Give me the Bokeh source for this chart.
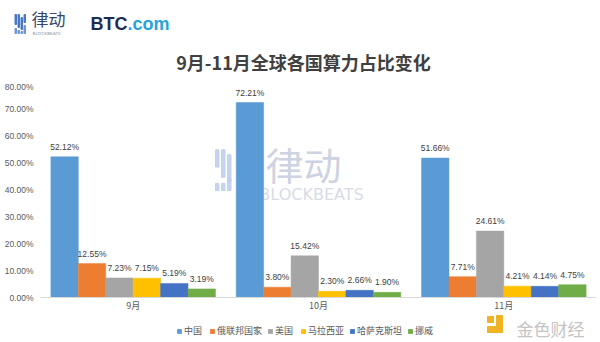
from bokeh.plotting import figure
from bokeh.models import ColumnDataSource, FactorRange, Range1d, Label, Legend, LegendItem, FixedTicker
from bokeh.layouts import column
from bokeh.transform import dodge
from bokeh.core.properties import value
from bokeh.embed import file_html
from bokeh.resources import INLINE

months = ["9月", "10月", "11月"]
countries = ["中国", "俄联邦国家", "美国", "马拉西亚", "哈萨克斯坦", "挪威"]
china = [52.12, 72.21, 51.66]
russia = [12.55, 3.80, 7.71]
usa = [7.23, 15.42, 24.61]
malaysia = [7.15, 2.30, 4.21]
kazakhstan = [5.19, 2.66, 4.14]
norway = [3.19, 1.90, 4.75]
y_ticks = [0, 10, 20, 30, 40, 50, 60, 70, 80]
title_text = "9月-11月全球各国算力占比变化"

series = [china, russia, usa, malaysia, kazakhstan, norway]
colors = ["#5B9BD5", "#ED7D31", "#A5A5A5", "#FFC000", "#4472C4", "#70AD47"]

W, H = 600, 342
HEADER_H = 81
FRAME_L, FRAME_R, FRAME_T, FRAME_B = 40, 596, 86, 298
MID_BOTTOM = 314

def no_align(f):
    try:
        f.frame_align = False
    except Exception:
        pass

def strip(h, y0):
    f = figure(width=W, height=h, x_range=Range1d(0, W), y_range=Range1d(y0 + h, y0),
               output_backend="svg", toolbar_location=None,
               x_axis_location=None, y_axis_location=None,
               min_border=0, min_border_left=0, min_border_right=0,
               min_border_top=0, min_border_bottom=0)
    f.outline_line_color = None
    f.xgrid.visible = False
    f.ygrid.visible = False
    no_align(f)
    return f

# ---------------- header: logos + title ----------------
pa = strip(HEADER_H, 0)
pa.quad(left=[14.5, 17.5, 20.5, 23.5], right=[16, 19, 22, 25],
        top=[14, 14, 17, 14], bottom=[24, 27, 29, 22], color="#4A78C8")
pa.quad(left=[14.5, 17.5, 20.5, 23.5], right=[16, 19, 22, 25],
        top=[28, 30, 31, 25], bottom=[33, 33, 33, 33], color="#6F95D6")
pa.text(x=[31], y=[30], text=["律动"], text_font=value("Noto Sans CJK SC"),
        text_font_size="17px", text_color="#34466B", text_baseline="bottom")
pa.text(x=[32], y=[35], text=["BLOCKBEATS"], text_font=value("Lato"),
        text_font_size="4.5px", text_color="#8C96AA", text_baseline="bottom")
pa.text(x=[90], y=[33], text=["BTC"], text_font=value("Liberation Sans"),
        text_font_size="18px", text_font_style="bold", text_color="#1D2B53",
        text_baseline="bottom")
pa.text(x=[127], y=[33], text=[".com"], text_font=value("Liberation Sans"),
        text_font_size="18px", text_font_style="bold", text_color="#27A3DC",
        text_baseline="bottom")
pa.text(x=[303], y=[61], text=[title_text], text_font=value("Noto Sans CJK SC"),
        text_font_size="18px", text_font_style="bold", text_color="#404040",
        text_align="center", text_baseline="middle")

# ---------------- main chart ----------------
data = {"month": months}
for i, s in enumerate(series):
    data[f"s{i}"] = s
    data[f"l{i}"] = [f"{v:.2f}%" for v in s]
src = ColumnDataSource(data)

p = figure(width=W, height=MID_BOTTOM - HEADER_H, x_range=FactorRange(*months, range_padding=0),
           y_range=Range1d(0, 80), output_backend="svg", toolbar_location=None,
           min_border_left=FRAME_L, min_border_right=W - FRAME_R,
           min_border_top=0, min_border_bottom=MID_BOTTOM - FRAME_B)
p.outline_line_color = None
p.xgrid.grid_line_color = None
p.ygrid.grid_line_color = None
no_align(p)

def px2x(px):
    return (px - FRAME_L) / ((FRAME_R - FRAME_L) / 3.0)

def px2y(py):
    return (FRAME_B - py) / ((FRAME_B - FRAME_T) / 80.0)

# watermark behind bars
wm_l = [215, 221, 227, 215, 221, 227]
wm_r = [218.5, 224.5, 230.5, 218.5, 224.5, 230.5]
wm_t = [153, 153, 158, 186, 186, 182]
wm_b = [170, 180, 184, 193, 193, 193]
p.quad(left=[px2x(v) for v in wm_l], right=[px2x(v) for v in wm_r],
       top=[px2y(v) for v in wm_t], bottom=[px2y(v) for v in wm_b],
       color="#BCCCEA", alpha=0.85, level="underlay")
p.add_layout(Label(x=px2x(303), y=px2y(166), text="律动", text_font="Noto Sans CJK SC",
                   text_font_size="38px", text_color="#C6CDDC", text_alpha=0.9,
                   text_align="center", text_baseline="middle", level="underlay"))
p.add_layout(Label(x=px2x(311), y=px2y(197), text="BLOCKBEATS", text_font="DejaVu Sans",
                   text_font_size="16px", text_color="#D7DCE6",
                   text_align="center", text_baseline="middle", level="underlay"))

w = 0.148
for i, c in enumerate(colors):
    off = (i - 2.5) * w
    p.vbar(x=dodge("month", off, range=p.x_range), top=f"s{i}", width=w, bottom=0,
           source=src, fill_color=c, line_color=c, line_width=0.5)
    p.text(x=dodge("month", off, range=p.x_range), y=f"s{i}", text=f"l{i}", source=src,
           text_align="center", text_baseline="bottom", y_offset=-5,
           text_font=value("Liberation Sans"), text_font_size="8.5px", text_color="#404040")

for ax in (p.xaxis[0], p.yaxis[0]):
    ax.major_tick_line_color = None
    ax.minor_tick_line_color = None
    ax.major_tick_out = 0
    ax.major_tick_in = 0
    ax.minor_tick_out = 0
    ax.minor_tick_in = 0

p.yaxis.ticker = FixedTicker(ticks=y_ticks)
p.yaxis.major_label_overrides = {t: f"{t:.2f}%" for t in y_ticks}
p.yaxis.axis_line_color = None
p.yaxis.major_label_standoff = 7
p.yaxis.major_label_text_font = "Liberation Sans"
p.yaxis.major_label_text_font_size = "8.5px"
p.yaxis.major_label_text_color = "#595959"

p.xaxis.axis_line_color = "#D9D9D9"
p.xaxis.major_label_standoff = 1
p.xaxis.major_label_text_font = "Noto Sans CJK SC"
p.xaxis.major_label_text_font_size = "9px"
p.xaxis.major_label_text_color = "#595959"

# ---------------- footer: legend + logo ----------------
pc = strip(H - MID_BOTTOM, MID_BOTTOM)
leg_r = []
for c in colors:
    # legend proxies (zero-height, invisible on the canvas)
    leg_r.append(pc.vbar(x=[0], top=[H], bottom=[H], width=0, fill_color=c, line_color=None))
legend = Legend(items=[LegendItem(label=n, renderers=[r]) for n, r in zip(countries, leg_r)],
                orientation="horizontal", location=(176, 5), glyph_width=6, glyph_height=6,
                label_height=10, label_standoff=2, spacing=5, padding=0, margin=0,
                label_text_font="Noto Sans CJK SC", label_text_font_size="9px",
                label_text_color="#595959", border_line_color=None, background_fill_alpha=0)
pc.add_layout(legend)
# 金色财经 logo
pc.quad(left=[487, 496, 487], right=[493, 502, 502], top=[316, 315, 326],
        bottom=[322, 332, 332], color="#F0B323")
pc.text(x=[516], y=[327.5], text=["金色财经"], text_font=value("Noto Sans CJK SC"),
        text_font_size="17px", text_color="#C4C4C4", text_baseline="middle")

layout = column(pa, p, pc, spacing=0)
open("out.html", "w").write(file_html(layout, INLINE))
